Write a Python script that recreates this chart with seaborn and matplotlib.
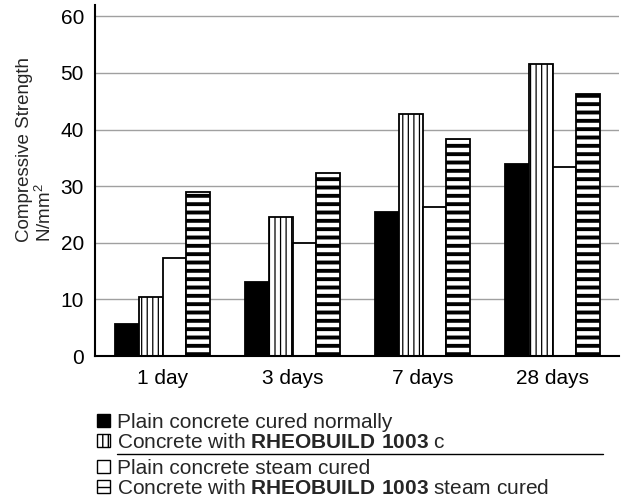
import pandas as pd
import numpy as np
import matplotlib.pyplot as plt
import seaborn as sns
from matplotlib.patches import Patch
from matplotlib.lines import Line2D

sns.set_theme(style='white')
plt.rcParams['font.family'] = ['Liberation Sans', 'DejaVu Sans']
plt.rcParams['mathtext.fontset'] = 'custom'
plt.rcParams['mathtext.rm'] = 'Liberation Sans'
plt.rcParams['mathtext.bf'] = 'Liberation Sans:bold'

ages = ['1 day', '3 days', '7 days', '28 days']
mix_types = [
    'Plain concrete cured normally',
    'Concrete with RHEOBUILD 1003 c',
    'Plain concrete steam cured',
    'Concrete with RHEOBUILD 1003 steam cured',
]
plain_normal = [5.6, 13.1, 25.4, 33.9]
rheo_normal = [10.5, 24.5, 42.8, 51.5]
plain_steam = [17.3, 20.0, 26.3, 33.3]
rheo_steam = [29.0, 32.4, 38.4, 46.3]

legend_labels = [
    'Plain concrete cured normally',
    r'Concrete with $\mathbf{RHEOBUILD\ 1003}$ c',
    'Plain concrete steam cured',
    r'Concrete with $\mathbf{RHEOBUILD\ 1003}$ steam cured',
]

df = pd.DataFrame({
    'age': ages * 4,
    'type': np.repeat(mix_types, len(ages)),
    'strength': plain_normal + rheo_normal + plain_steam + rheo_steam,
})

faces = ['black', 'white', 'white', 'white']
hatches = [None, '|||', None, '--']
hatch_widths = [1.0, 0.9, 1.0, 2.8]

fig = plt.figure(figsize=(6.21, 4.99), dpi=100)
ax = fig.add_axes([95 / 621, 1 - 356 / 499, 524 / 621, 351 / 499])

sns.barplot(
    data=df, x='age', y='strength', hue='type', hue_order=mix_types,
    palette=dict(zip(mix_types, faces)), width=0.73, gap=0,
    edgecolor='black', linewidth=1.3, saturation=1, legend=False, ax=ax
)

for cont, h, hw in zip(ax.containers, hatches, hatch_widths):
    for bar in cont:
        if h:
            bar.set_hatch(h)
            if hasattr(bar, 'set_hatch_linewidth'):
                bar.set_hatch_linewidth(hw)

ax.set_ylim(0, 62)
ax.set_xlim(-0.52, 3.51)
ax.set_yticks([0, 10, 20, 30, 40, 50, 60])
ax.yaxis.grid(True, color='#a0a0a0', linewidth=1.0)
ax.set_axisbelow(True)
for s in ['top', 'right']:
    ax.spines[s].set_visible(False)
for s in ['left', 'bottom']:
    ax.spines[s].set_color('black')
    ax.spines[s].set_linewidth(1.5)
ax.tick_params(axis='both', length=0, labelsize=15, colors='black')
ax.tick_params(axis='y', pad=8)
ax.tick_params(axis='x', pad=9)
ax.set_xlabel('')
ax.set_ylabel('')

fig.text(0.057, 0.70, 'Compressive Strength\nN/mm$^{2}$', rotation=90,
         ha='center', va='center', multialignment='left', fontsize=13.5,
         linespacing=1.1)

handles = []
for f, h, hw in zip(faces, hatches, hatch_widths):
    p = Patch(facecolor=f, edgecolor='black', hatch=h, linewidth=1.0)
    if h and hasattr(p, 'set_hatch_linewidth'):
        p.set_hatch_linewidth(min(hw, 2.0))
    handles.append(p)

leg_kw = dict(loc='upper left', frameon=False, fontsize=15,
              handlelength=0.6, handleheight=0.6, handletextpad=0.35,
              labelspacing=0.05, borderpad=0, borderaxespad=0)
fig.legend(handles[:2], legend_labels[:2],
           bbox_to_anchor=(97 / 621, 1 - 413 / 499), **leg_kw)
fig.legend(handles[2:], legend_labels[2:],
           bbox_to_anchor=(97 / 621, 1 - 459 / 499), **leg_kw)

fig.add_artist(Line2D([117 / 621, 603 / 621], [1 - 454 / 499, 1 - 454 / 499],
                      color='black', linewidth=1.0))

fig.savefig('out.png', dpi=100)
